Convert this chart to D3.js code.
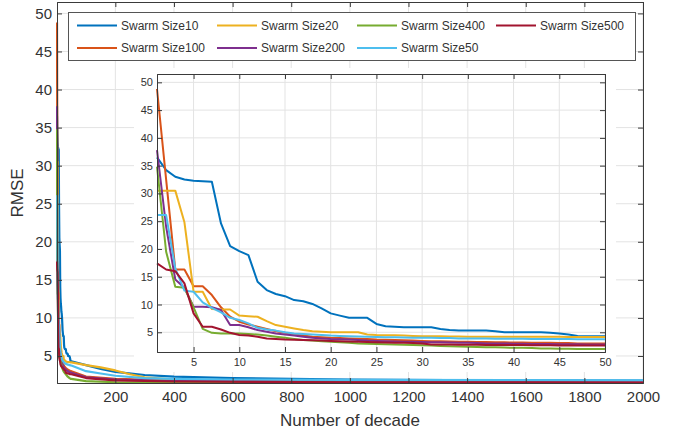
<!DOCTYPE html>
<html>
<head>
<meta charset="utf-8">
<script src="https://cdn.jsdelivr.net/npm/d3@7"></script>
<style>
  body { margin: 0; background: #fff; }
  svg { display: block; font-family: "Liberation Sans", Arial, sans-serif; }
</style>
</head>
<body>
<div id="chart"></div>
<script>
// legend / draw order (MATLAB sorted the names)
var seriesNames = ["Swarm Size10", "Swarm Size100", "Swarm Size20", "Swarm Size200", "Swarm Size400", "Swarm Size50", "Swarm Size500"];
var seriesColors = ["#0072BD", "#D95319", "#EDB120", "#7E2F8E", "#77AC30", "#4DBEEE", "#A2142F"];

// first 50 decades
var size10 = [36.5, 34.2, 33.0, 32.5, 32.3, 32.2, 32.1, 24.6, 20.5, 19.6, 18.9, 14.1, 12.6, 11.9, 11.5, 10.8, 10.6, 10.1, 9.3, 8.4,
  8.0, 7.6, 7.6, 7.6, 6.5, 6.1, 6.0, 5.9, 5.9, 5.9, 5.9, 5.6, 5.4, 5.3, 5.3, 5.3, 5.3, 5.2, 5.0, 5.0,
  5.0, 5.0, 5.0, 4.9, 4.8, 4.6, 4.35, 4.3, 4.3, 4.3];
var size100 = [48.8, 32.5, 16.3, 16.3, 13.3, 13.3, 11.7, 9.5, 7.8, 6.9, 6.4, 6.0, 5.6, 5.2, 4.9, 4.6, 4.4, 4.2, 4.1, 4.0,
  3.95, 3.9, 3.85, 3.8, 3.7, 3.65, 3.6, 3.55, 3.5, 3.45, 3.4, 3.4, 3.35, 3.3, 3.3, 3.25, 3.25, 3.2, 3.2, 3.15,
  3.15, 3.1, 3.1, 3.1, 3.05, 3.05, 3.0, 3.0, 3.0, 3.0];
var size20 = [30.5, 30.5, 30.5, 24.8, 12.3, 12.3, 9.2, 9.1, 9.1, 8.0, 7.9, 7.8, 7.0, 6.3, 6.0, 5.7, 5.4, 5.2, 5.1, 5.0,
  5.0, 5.0, 5.0, 4.6, 4.5, 4.45, 4.45, 4.4, 4.35, 4.3, 4.3, 4.3, 4.25, 4.25, 4.2, 4.2, 4.2, 4.2, 4.2, 4.2,
  4.2, 4.2, 4.2, 4.2, 4.2, 4.15, 4.15, 4.15, 4.15, 4.15];
var size200 = [37.8, 24.0, 14.5, 13.0, 9.6, 9.6, 9.5, 9.0, 6.3, 6.3, 5.9, 5.4, 5.1, 4.8, 4.6, 4.4, 4.2, 4.0, 3.9, 3.8,
  3.75, 3.7, 3.6, 3.5, 3.45, 3.4, 3.35, 3.3, 3.3, 3.25, 3.2, 3.2, 3.15, 3.1, 3.1, 3.05, 3.0, 3.0, 3.0, 2.95,
  2.95, 2.9, 2.9, 2.9, 2.85, 2.85, 2.85, 2.8, 2.8, 2.8];
var size400 = [34.8, 19.5, 13.2, 13.0, 9.5, 5.6, 4.9, 4.8, 4.8, 4.8, 4.7, 4.6, 4.4, 4.2, 4.0, 3.8, 3.6, 3.5, 3.4, 3.3,
  3.2, 3.1, 3.0, 2.95, 2.9, 2.85, 2.8, 2.75, 2.7, 2.65, 2.6, 2.55, 2.5, 2.45, 2.4, 2.35, 2.3, 2.3, 2.25, 2.2,
  2.2, 2.15, 2.1, 2.1, 2.05, 2.05, 2.0, 2.0, 2.0, 2.0];
var size50 = [26.1, 26.1, 16.5, 12.5, 12.3, 10.4, 9.4, 8.6, 7.6, 7.2, 6.6, 5.8, 5.5, 5.3, 5.0, 4.8, 4.7, 4.6, 4.5, 4.4,
  4.35, 4.3, 4.25, 4.2, 4.15, 4.1, 4.1, 4.05, 4.0, 4.0, 4.0, 3.95, 3.95, 3.9, 3.9, 3.9, 3.9, 3.85, 3.85, 3.85,
  3.85, 3.8, 3.8, 3.8, 3.8, 3.8, 3.75, 3.75, 3.75, 3.75];
var size500 = [17.4, 16.3, 16.0, 13.8, 8.4, 6.0, 6.0, 5.5, 4.9, 4.5, 4.4, 4.2, 3.9, 3.8, 3.7, 3.65, 3.6, 3.55, 3.5, 3.45,
  3.4, 3.35, 3.3, 3.25, 3.2, 3.15, 3.1, 3.1, 3.05, 3.0, 2.8, 2.8, 2.8, 2.75, 2.75, 2.75, 2.7, 2.7, 2.7, 2.7,
  2.7, 2.65, 2.65, 2.65, 2.6, 2.6, 2.6, 2.6, 2.6, 2.6];

// later decades, [decade, rmse]
var size10Tail = [[100, 3.8], [150, 3.3], [200, 2.9], [300, 2.5], [400, 2.3], [600, 2.1], [800, 2.0], [1000, 1.9], [1500, 1.8], [2000, 1.75]];
var size100Tail = [[100, 2.3], [200, 2.0], [400, 1.8], [1000, 1.65], [2000, 1.6]];
var size20Tail = [[100, 3.8], [150, 3.5], [200, 3.1], [250, 2.6], [300, 2.2], [400, 1.9], [600, 1.75], [1000, 1.65], [2000, 1.6]];
var size200Tail = [[100, 2.2], [200, 1.9], [400, 1.7], [1000, 1.6], [2000, 1.55]];
var size400Tail = [[100, 1.7], [200, 1.55], [400, 1.5], [2000, 1.45]];
var size50Tail = [[100, 3.0], [150, 2.7], [200, 2.4], [300, 2.1], [400, 2.0], [600, 1.9], [1000, 1.85], [2000, 1.8]];
var size500Tail = [[100, 2.1], [200, 1.8], [400, 1.65], [1000, 1.55], [2000, 1.5]];

var mainXTicks = [200, 400, 600, 800, 1000, 1200, 1400, 1600, 1800, 2000];
var yTicks = [5, 10, 15, 20, 25, 30, 35, 40, 45, 50];
var insetXTicks = [5, 10, 15, 20, 25, 30, 35, 40, 45, 50];

var firstPart = [size10, size100, size20, size200, size400, size50, size500];
var tails = [size10Tail, size100Tail, size20Tail, size200Tail, size400Tail, size50Tail, size500Tail];

var series = seriesNames.map(function(name, i) {
    var pts = firstPart[i].map(function(v, k) { return [k + 1, v]; });
    return { name: name, color: seriesColors[i], head: pts, all: pts.concat(tails[i]) };
});

var width = 674, height = 433;
var axisColor = "#3a3a3a", gridColor = "#e3e3e3", textColor = "#333";

var svg = d3.select("#chart").append("svg")
    .attr("width", width)
    .attr("height", height);

function drawPanel(g, x, y, xTicks, fontSize, pad, clipId, data, lw) {
    var x0 = x.range()[0], x1 = x.range()[1], y0 = y.range()[0], y1 = y.range()[1];
    // grid
    g.append("g").selectAll("line").data(xTicks).enter().append("line")
        .attr("x1", function(d) { return x(d); }).attr("x2", function(d) { return x(d); })
        .attr("y1", y0).attr("y2", y1)
        .attr("stroke", gridColor).attr("stroke-width", 1);
    g.append("g").selectAll("line").data(yTicks).enter().append("line")
        .attr("y1", function(d) { return y(d); }).attr("y2", function(d) { return y(d); })
        .attr("x1", x0).attr("x2", x1)
        .attr("stroke", gridColor).attr("stroke-width", 1);

    // clip a little wider than the box so the lines on the edge keep their width
    svg.append("clipPath").attr("id", clipId).append("rect")
        .attr("x", x0 - lw / 2).attr("y", y1).attr("width", x1 - x0 + lw / 2).attr("height", y0 - y1 + lw / 2);

    var line = d3.line().x(function(d) { return x(d[0]); }).y(function(d) { return y(d[1]); });
    g.append("g").attr("clip-path", "url(#" + clipId + ")")
        .selectAll("path").data(data).enter().append("path")
        .attr("d", function(d) { return line(d.pts); })
        .attr("fill", "none")
        .attr("stroke", function(d) { return d.color; })
        .attr("stroke-width", lw)
        .attr("stroke-linejoin", "round");

    // axes, ticks inward
    var ax = [
        g.append("g").attr("transform", "translate(0," + y0 + ")")
            .call(d3.axisBottom(x).tickValues(xTicks).tickSize(-5).tickPadding(pad.x).tickFormat(d3.format("d"))),
        g.append("g").attr("transform", "translate(" + x0 + ",0)")
            .call(d3.axisLeft(y).tickValues(yTicks).tickSize(-5).tickPadding(pad.y)),
        g.append("g").attr("transform", "translate(0," + y1 + ")")
            .call(d3.axisTop(x).tickValues(xTicks).tickSize(-5).tickFormat("")),
        g.append("g").attr("transform", "translate(" + x1 + ",0)")
            .call(d3.axisRight(y).tickValues(yTicks).tickSize(-5).tickFormat(""))
    ];
    ax.forEach(function(a) {
        a.select(".domain").attr("stroke", axisColor);
        a.selectAll(".tick line").attr("stroke", axisColor);
        a.selectAll("text").attr("fill", textColor).style("font-size", fontSize + "px")
            .style("font-family", "'Liberation Sans', Arial, sans-serif");
    });
}

// main panel
var xMain = d3.scaleLinear().domain([1, 2000]).range([57, 643]);
var yMain = d3.scaleLinear().domain([1.45, 51.5]).range([383, 2]);
drawPanel(svg.append("g"), xMain, yMain, mainXTicks, 15, { x: 8, y: 5 }, "clipMain",
    series.map(function(s) { return { color: s.color, pts: s.all }; }), 2.2);

svg.append("text")
    .attr("x", 350).attr("y", 426)
    .attr("text-anchor", "middle")
    .attr("fill", textColor)
    .style("font-size", "17px")
    .text("Number of decade");
svg.append("text")
    .attr("transform", "translate(23,193) rotate(-90)")
    .attr("text-anchor", "middle")
    .attr("fill", textColor)
    .style("font-size", "17px")
    .text("RMSE");

// inset panel (first 50 decades), white backdrop over main grid
svg.append("rect")
    .attr("x", 134).attr("y", 68).attr("width", 482).attr("height", 304)
    .attr("fill", "#fff");
var xIn = d3.scaleLinear().domain([1, 50]).range([157, 605]);
var yIn = d3.scaleLinear().domain([1.45, 51.5]).range([352, 74]);
drawPanel(svg.append("g"), xIn, yIn, insetXTicks, 11, { x: 6, y: 4 }, "clipInset",
    series.map(function(s) { return { color: s.color, pts: s.head }; }), 2);

// legend, 4 columns x 2 rows, filled column by column
var legend = svg.append("g");
legend.append("rect")
    .attr("x", 68.5).attr("y", 12.5).attr("width", 567).attr("height", 48)
    .attr("fill", "#fff").attr("stroke", "#555").attr("stroke-width", 1);
var colX = [77, 217, 357, 496], rowY = [25.5, 48];
var items = legend.selectAll(".item").data(series).enter().append("g")
    .attr("transform", function(d, i) {
        return "translate(" + colX[Math.floor(i / 2)] + "," + rowY[i % 2] + ")";
    });
items.append("line")
    .attr("x1", 0).attr("x2", 40)
    .attr("stroke", function(d) { return d.color; })
    .attr("stroke-width", 2.2);
items.append("text")
    .attr("x", 44).attr("dy", "0.35em")
    .attr("fill", textColor)
    .style("font-size", "12px")
    .text(function(d) { return d.name; });
</script>
</body>
</html>
